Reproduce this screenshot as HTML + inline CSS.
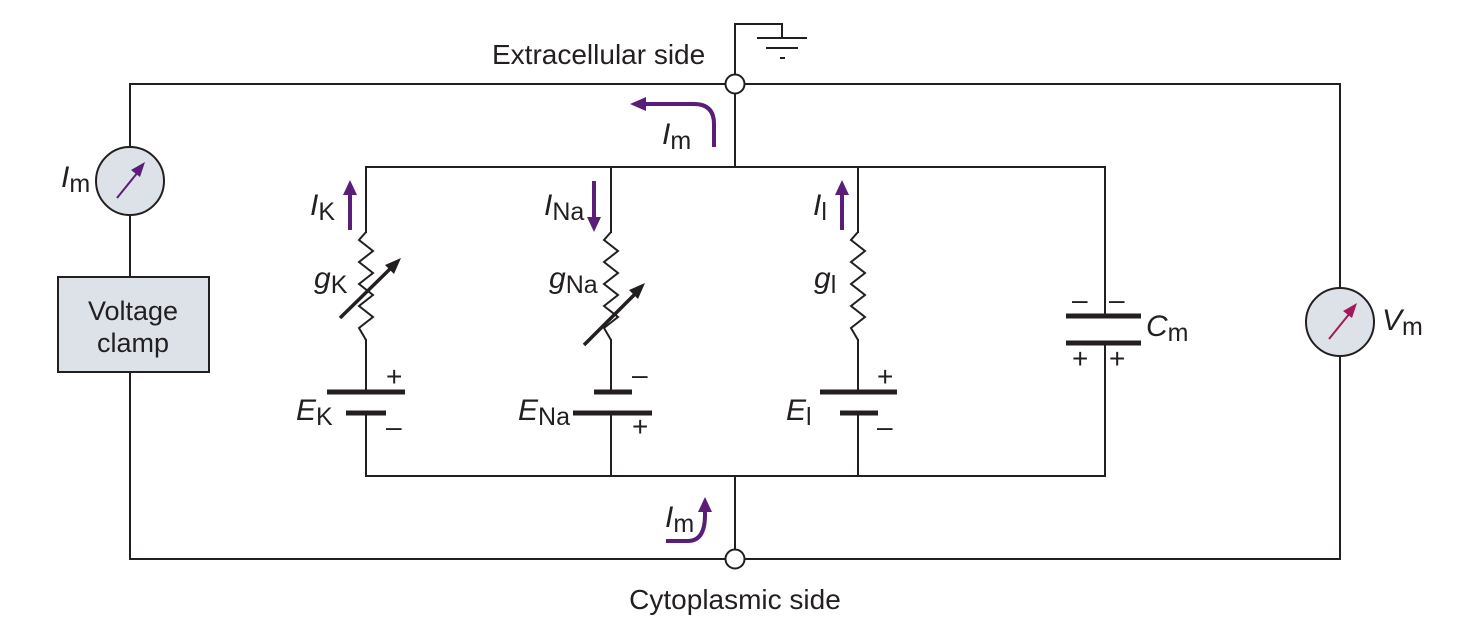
<!DOCTYPE html>
<html><head><meta charset="utf-8"><style>
html,body{margin:0;padding:0;background:#fff;}
svg{display:block;}
text{font-family:"Liberation Sans",sans-serif;fill:#231f20;}
</style></head><body>
<svg width="1477" height="638" viewBox="0 0 1477 638" xmlns="http://www.w3.org/2000/svg">
<g stroke="#231f20" stroke-width="2" fill="none">
<polyline points="130,147 130,84 1340,84 1340,288"/>
<line x1="130" y1="215" x2="130" y2="277"/>
<polyline points="130,372 130,559 1340,559 1340,356"/>
<rect x="366" y="167" width="739" height="309"/>
<line x1="611" y1="167" x2="611" y2="476"/>
<line x1="858" y1="167" x2="858" y2="476"/>
<line x1="735" y1="84" x2="735" y2="167"/>
<line x1="735" y1="476" x2="735" y2="559"/>
<polyline points="735,84 735,24 782,24 782,38"/>
<line x1="757" y1="38" x2="807" y2="38"/>
<line x1="766" y1="48" x2="798" y2="48"/>
<line x1="780" y1="58" x2="785" y2="58"/>
</g>
<g stroke="#fff" stroke-width="4">
<line x1="366" y1="233" x2="366" y2="339"/>
<line x1="611" y1="233" x2="611" y2="339"/>
<line x1="858" y1="233" x2="858" y2="339"/>
<line x1="366" y1="393" x2="366" y2="412"/>
<line x1="611" y1="393" x2="611" y2="412"/>
<line x1="858" y1="393" x2="858" y2="412"/>
<line x1="1105" y1="317" x2="1105" y2="342"/>
</g>
<g stroke="#231f20" stroke-width="2" fill="none">
<polyline points="366,232 359,240 373,251 359,262 373,273 359,284 373,295 359,306 373,317 359,328 366,340"/>
<polyline points="611,232 604,240 618,251 604,262 618,273 604,284 618,295 604,306 618,317 604,328 611,340"/>
<polyline points="858,232 851,240 865,251 851,262 865,273 851,284 865,295 851,306 865,317 851,328 858,340"/>
</g>
<g stroke="#231f20" stroke-width="5">
<line x1="327" y1="392" x2="405" y2="392"/><line x1="346" y1="413" x2="386" y2="413"/>
<line x1="594" y1="392" x2="632" y2="392"/><line x1="573" y1="413" x2="652" y2="413"/>
<line x1="820" y1="392" x2="897" y2="392"/><line x1="840" y1="413" x2="878" y2="413"/>
<line x1="1066" y1="316" x2="1141" y2="316"/><line x1="1066" y1="343" x2="1141" y2="343"/>
</g>
<g stroke="#231f20" stroke-width="3.5">
<line x1="340" y1="318" x2="393" y2="266"/>
<line x1="584" y1="345" x2="637" y2="292"/>
</g>
<path d="M401,258 L385,265 L394,274 z" fill="#231f20"/>
<path d="M645,283 L629,290 L638,299 z" fill="#231f20"/>
<circle cx="735" cy="84" r="9.5" fill="#fff" stroke="#231f20" stroke-width="2"/>
<circle cx="735" cy="559" r="9.5" fill="#fff" stroke="#231f20" stroke-width="2"/>
<circle cx="130" cy="181" r="34" fill="#dde2e8" stroke="#231f20" stroke-width="2"/>
<line x1="117" y1="198" x2="138" y2="172" stroke="#5a1e78" stroke-width="2"/>
<path d="M145,162 L131,170 L140,177 z" fill="#5a1e78"/>
<rect x="58" y="277" width="151" height="95" fill="#dde2e8" stroke="#231f20" stroke-width="2"/>
<text x="133" y="320" font-size="27" text-anchor="middle">Voltage</text>
<text x="133" y="352" font-size="27" text-anchor="middle">clamp</text>
<circle cx="1340" cy="322" r="34" fill="#dde2e8" stroke="#231f20" stroke-width="2"/>
<line x1="1329" y1="339" x2="1350" y2="313" stroke="#a3195b" stroke-width="2"/>
<path d="M1357,303 L1343,311 L1352,318 z" fill="#a3195b"/>
<g stroke="#5a1e78" stroke-width="4" fill="none">
<line x1="350" y1="230" x2="350" y2="192"/>
<line x1="594" y1="181" x2="594" y2="222"/>
<line x1="842" y1="230" x2="842" y2="192"/>
<path d="M714,147 L714,124 Q714,104 694,104 L644,104"/>
<path d="M666,541 L688,541 Q705,541 705,515 L705,508"/>
</g>
<g fill="#5a1e78">
<path d="M350,180 L343,195 L357,195 z"/>
<path d="M594,232 L587,217 L601,217 z"/>
<path d="M842,180 L835,195 L849,195 z"/>
<path d="M630,104 L646,97 L646,111 z"/>
<path d="M705,497 L698,512 L712,512 z"/>
</g>
<g font-size="30">
<text x="492" y="64" font-size="28">Extracellular side</text>
<text x="735" y="609" font-size="28" text-anchor="middle">Cytoplasmic side</text>
<text x="662" y="144"><tspan font-style="italic">I</tspan><tspan font-size="25" dy="5">m</tspan></text>
<text x="665" y="527"><tspan font-style="italic">I</tspan><tspan font-size="25" dy="5">m</tspan></text>
<text x="61" y="187"><tspan font-style="italic">I</tspan><tspan font-size="25" dy="5">m</tspan></text>
<text x="1382" y="330"><tspan font-style="italic">V</tspan><tspan font-size="25" dy="5">m</tspan></text>
<text x="1146" y="336"><tspan font-style="italic">C</tspan><tspan font-size="25" dy="5">m</tspan></text>
<text x="310" y="215"><tspan font-style="italic">I</tspan><tspan font-size="25" dy="5">K</tspan></text>
<text x="544" y="215"><tspan font-style="italic">I</tspan><tspan font-size="25" dy="5">Na</tspan></text>
<text x="813" y="215"><tspan font-style="italic">I</tspan><tspan font-size="25" dy="5">l</tspan></text>
<text x="314" y="288"><tspan font-style="italic">g</tspan><tspan font-size="25" dy="5">K</tspan></text>
<text x="549" y="288"><tspan font-style="italic">g</tspan><tspan font-size="25" dy="5">Na</tspan></text>
<text x="814" y="288"><tspan font-style="italic">g</tspan><tspan font-size="25" dy="5">l</tspan></text>
<text x="296" y="420"><tspan font-style="italic">E</tspan><tspan font-size="25" dy="5">K</tspan></text>
<text x="518" y="420"><tspan font-style="italic">E</tspan><tspan font-size="25" dy="5">Na</tspan></text>
<text x="786" y="420"><tspan font-style="italic">E</tspan><tspan font-size="25" dy="5">l</tspan></text>
<text x="386" y="386" font-size="28">+</text>
<text x="386" y="436" font-size="28">–</text>
<text x="632" y="384" font-size="28">–</text>
<text x="632" y="436" font-size="28">+</text>
<text x="877" y="386" font-size="28">+</text>
<text x="877" y="436" font-size="28">–</text>
<text x="1072" y="309" font-size="28">–</text>
<text x="1109" y="309" font-size="28">–</text>
<text x="1072" y="368" font-size="28">+</text>
<text x="1109" y="368" font-size="28">+</text>
</g>
</svg>
</body></html>
